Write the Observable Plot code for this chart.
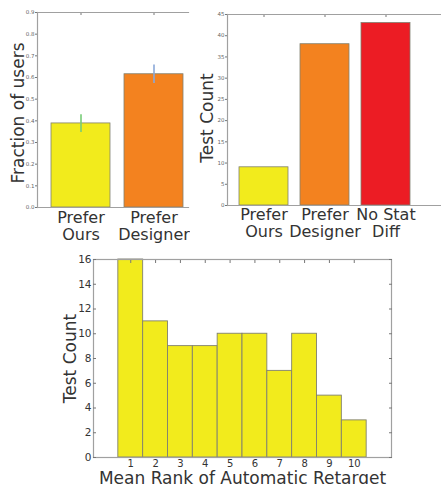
<!DOCTYPE html>
<html>
<head>
<meta charset="utf-8">
<script src="https://cdn.jsdelivr.net/npm/d3@7"></script>
<script src="https://cdn.jsdelivr.net/npm/@observablehq/plot@0.6"></script>
<style>
  body { margin: 0; background: #fff; }
  #wrap { position: relative; width: 441px; height: 484px; overflow: hidden; font-family: "DejaVu Sans", sans-serif; }
  #wrap > svg { position: absolute; overflow: hidden; }
</style>
</head>
<body>
<div id="wrap"></div>
<script>
// ---- Panel 1: fraction of users ----
const prefCategories = ["Prefer\nOurs", "Prefer\nDesigner"];
const prefFractions = [0.388, 0.615];
const prefErrLow = [0.346, 0.572];
const prefErrHigh = [0.428, 0.658];
const prefTicks = [0, 0.1, 0.2, 0.3, 0.4, 0.5, 0.6, 0.7, 0.8, 0.9];

// ---- Panel 2: test counts by outcome ----
const outcomeCategories = ["Prefer\nOurs", "Prefer\nDesigner", "No Stat\nDiff"];
const outcomeCounts = [9, 38, 43];
const outcomeTicks = [0, 5, 10, 15, 20, 25, 30, 35, 40, 45];

// ---- Panel 3: histogram of mean rank ----
const rankBins = [1, 2, 3, 4, 5, 6, 7, 8, 9, 10];
const rankCounts = [16, 11, 9, 9, 10, 10, 7, 10, 5, 3];
const rankYTicks = [0, 2, 4, 6, 8, 10, 12, 14, 16];

const FONT = "DejaVu Sans, sans-serif";
const axisGray = "#a0a0a0";
const tickGray = "#777";
const barStroke = "#808070";
const colorScale = {domain: outcomeCategories, range: ["#f2eb1c", "#f3821f", "#ec1c24"]};

const prefData = prefCategories.map((c, i) => ({cat: c, v: prefFractions[i], lo: prefErrLow[i], hi: prefErrHigh[i]}));
const outcomeData = outcomeCategories.map((c, i) => ({cat: c, v: outcomeCounts[i]}));
const rankData = rankBins.map((b, i) => ({bin: b, count: rankCounts[i]}));

const wrap = document.getElementById("wrap");
function place(svg, left, top) {
  svg.style.left = left + "px";
  svg.style.top = top + "px";
  wrap.appendChild(svg);
}

// Panel 1
const p1 = Plot.plot({
  width: 190, height: 250,
  marginLeft: 37, marginRight: 2, marginTop: 12, marginBottom: 43,
  style: {fontFamily: FONT, background: "transparent", color: "#222"},
  x: {domain: prefCategories, paddingInner: 0.192, paddingOuter: 0.13, align: 0.737, axis: null},
  y: {domain: [0, 0.9], axis: null},
  color: {domain: outcomeCategories, range: colorScale.range},
  marks: [
    Plot.barY(prefData, {x: "cat", y: "v", fill: "cat", stroke: barStroke, strokeWidth: 0.8}),
    Plot.ruleX(prefData, {x: "cat", y1: "lo", y2: "hi", stroke: (d, i) => i === 0 ? "#77cc77" : "#8aa8d8", strokeWidth: 1.6}),
    Plot.frame({anchor: "top", stroke: axisGray, strokeWidth: 1.2}),
    Plot.frame({anchor: "left", stroke: axisGray, strokeWidth: 1.2}),
    Plot.frame({anchor: "bottom", stroke: axisGray, strokeWidth: 1.2}),
    Plot.axisY({ticks: prefTicks, tickFormat: d3.format(".1f"), fontSize: 5.5, tickSize: 2, tickPadding: 1, stroke: tickGray, fill: "#666", label: null}),
    Plot.axisX({anchor: "top", tickSize: -2, tickFormat: () => "", stroke: tickGray, label: null}),
    Plot.axisX({anchor: "bottom", tickSize: 0, tickPadding: 3, fontSize: 16, lineHeight: 1.08, fill: "#333", label: null}),
    Plot.text(["Fraction of users"], {frameAnchor: "left", textAnchor: "middle", rotate: -90, dx: -19, dy: 3, fontSize: 17, fill: "#333"})
  ]
});
place(p1, 0, 0);

// Panel 2
const p2 = Plot.plot({
  width: 251, height: 250,
  marginLeft: 37, marginRight: 0, marginTop: 14, marginBottom: 45,
  style: {fontFamily: FONT, background: "transparent", color: "#222"},
  x: {domain: outcomeCategories, paddingInner: 0.197, paddingOuter: 0.352, align: 0.28, axis: null},
  y: {domain: [0, 45], axis: null},
  color: colorScale,
  marks: [
    Plot.barY(outcomeData, {x: "cat", y: "v", fill: "cat", stroke: barStroke, strokeWidth: 0.8}),
    Plot.frame({anchor: "top", stroke: axisGray, strokeWidth: 1.2}),
    Plot.frame({anchor: "left", stroke: axisGray, strokeWidth: 1.2}),
    Plot.frame({anchor: "bottom", stroke: axisGray, strokeWidth: 1.2}),
    Plot.axisY({ticks: outcomeTicks, fontSize: 5.5, tickSize: 2, tickPadding: 1, stroke: tickGray, fill: "#666", label: null}),
    Plot.axisX({anchor: "top", tickSize: -2, tickFormat: () => "", stroke: tickGray, label: null}),
    Plot.axisX({anchor: "bottom", tickSize: 0, tickPadding: 2, fontSize: 16, lineHeight: 1.08, fill: "#333", label: null}),
    Plot.text(["Test Count"], {frameAnchor: "left", textAnchor: "middle", rotate: -90, dx: -20, dy: 8, fontSize: 17, fill: "#333"})
  ]
});
place(p2, 190, 0);

// Panel 3
const p3 = Plot.plot({
  width: 441, height: 239,
  marginLeft: 93, marginRight: 50, marginTop: 14, marginBottom: 27,
  style: {fontFamily: FONT, background: "transparent", color: "#222"},
  x: {domain: [-0.5, 11.5], axis: null},
  y: {domain: [0, 16], axis: null},
  marks: [
    Plot.rectY(rankData, {x1: d => d.bin - 0.5, x2: d => d.bin + 0.5, y: "count", fill: "#f2eb1c", stroke: barStroke, strokeWidth: 0.9}),
    Plot.frame({stroke: axisGray, strokeWidth: 1.2}),
    Plot.axisY({ticks: rankYTicks, fontSize: 10.5, tickSize: 0, tickPadding: 2, fill: "#333", label: null}),
    Plot.axisY({ticks: rankYTicks, tickSize: -3, tickFormat: () => "", stroke: tickGray, label: null}),
    Plot.axisY({anchor: "right", ticks: rankYTicks, tickSize: -3, tickFormat: () => "", stroke: tickGray, label: null}),
    Plot.axisX({anchor: "top", ticks: rankBins, tickSize: -3, tickFormat: () => "", stroke: tickGray, label: null}),
    Plot.axisX({anchor: "bottom", ticks: rankBins, tickSize: 0, tickPadding: 2, fontSize: 10, fill: "#333", label: null}),
    Plot.text(["Mean Rank of Automatic Retarget"], {frameAnchor: "bottom", dy: 14, fontSize: 17, fill: "#333", lineAnchor: "top"}),
    Plot.text(["Test Count"], {frameAnchor: "left", textAnchor: "middle", rotate: -90, dx: -23, fontSize: 17, fill: "#333"})
  ]
});
place(p3, 0, 245);
</script>
</body>
</html>
